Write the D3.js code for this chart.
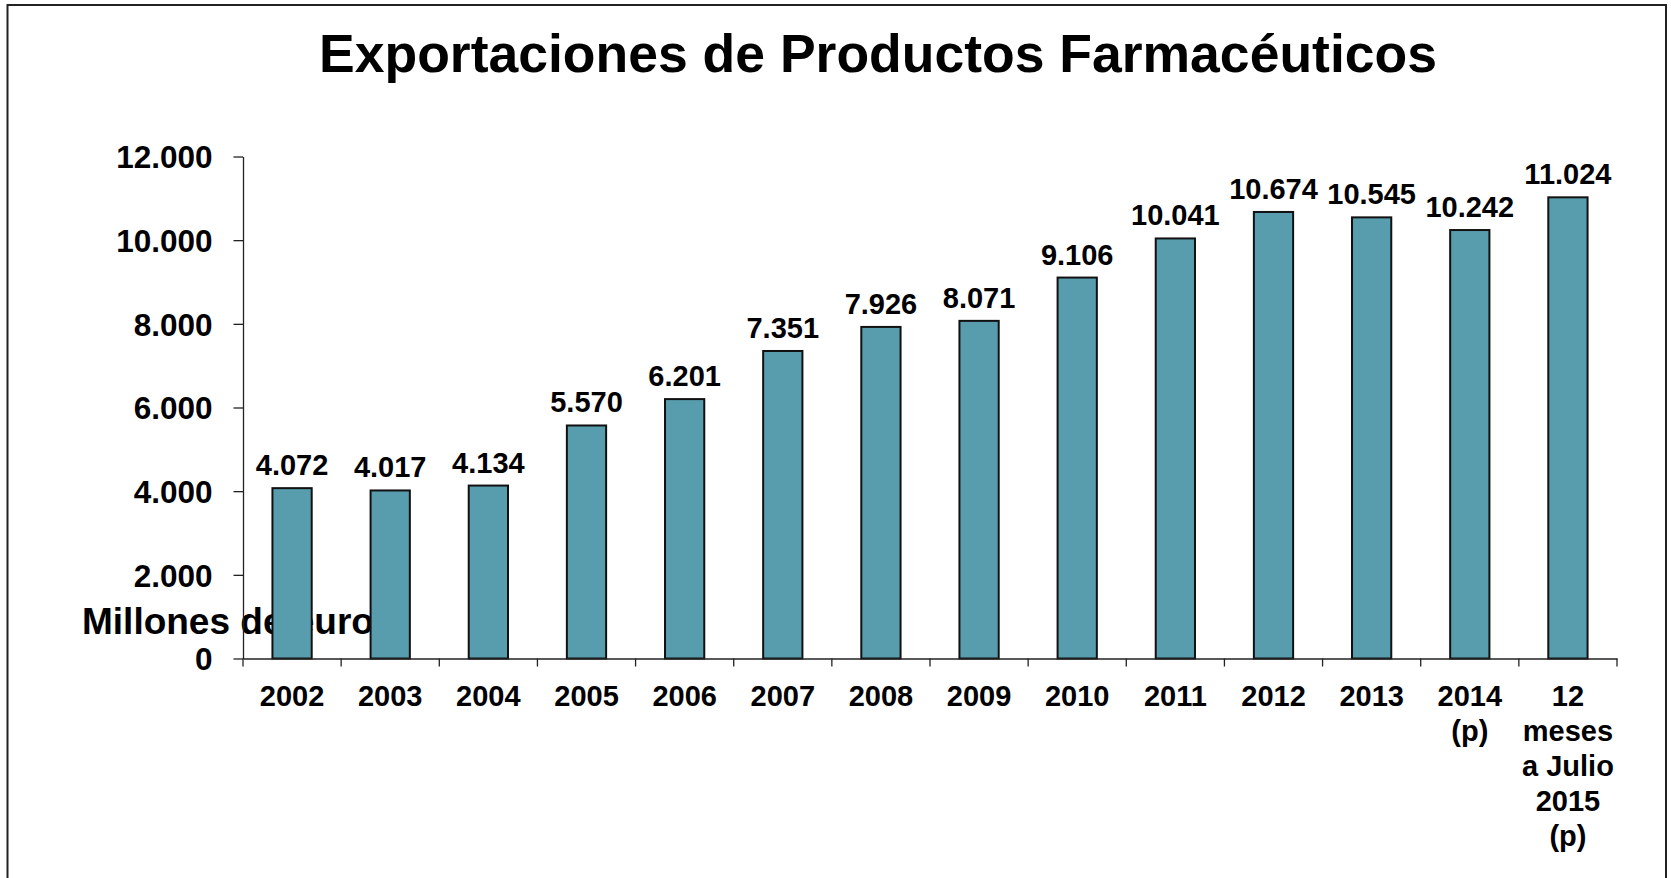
<!DOCTYPE html>
<html>
<head>
<meta charset="utf-8">
<script src="https://cdn.jsdelivr.net/npm/d3@7"></script>
<style>
  html, body { margin: 0; padding: 0; background: #fff; }
  svg { display: block; }
  text { font-family: "Liberation Sans", Arial, Helvetica, sans-serif; font-weight: bold; fill: #000; }
</style>
</head>
<body>
<script>
const title = "Exportaciones de Productos Farmacéuticos";
const yAxisLabel = "Millones de euro";
const categories = ["2002", "2003", "2004", "2005", "2006", "2007", "2008", "2009", "2010", "2011", "2012", "2013", "2014\n(p)", "12\nmeses\na Julio\n2015\n(p)"];
const values = [4072, 4017, 4134, 5570, 6201, 7351, 7926, 8071, 9106, 10041, 10674, 10545, 10242, 11024];
const yTicks = [0, 2000, 4000, 6000, 8000, 10000, 12000];

const W = 1671, H = 878;
const svg = d3.select("body").append("svg").attr("width", W).attr("height", H);

const loc = d3.formatLocale({ decimal: ",", thousands: ".", grouping: [3], currency: ["", " €"] });
const fmt = loc.format(",d");

const x = d3.scaleBand().domain(categories).range([243, 1617]).padding(0);
const y = d3.scaleLinear().domain([0, 12000]).range([658.5, 156.5]);

// frame
svg.append("rect").attr("x", 7.5).attr("y", 5).attr("width", 1658.5).attr("height", H + 20)
  .attr("fill", "none").attr("stroke", "#222").attr("stroke-width", 2);

// title
svg.append("text").attr("x", 878).attr("y", 72).attr("text-anchor", "middle")
  .style("font-size", "53.5px").text(title);

// y axis label (behind bars)
svg.append("text").attr("x", 82).attr("y", 634).style("font-size", "37px").text(yAxisLabel);

// bars
const barW = x.bandwidth() * 0.4;
svg.append("g").selectAll("rect").data(values).join("rect")
  .attr("x", (d, i) => x(categories[i]) + (x.bandwidth() - barW) / 2)
  .attr("y", d => y(d))
  .attr("width", barW)
  .attr("height", d => y(0) - y(d))
  .attr("fill", "#589dae")
  .attr("stroke", "#111")
  .attr("stroke-width", 2);

// value labels
svg.append("g").selectAll("text").data(values).join("text")
  .attr("x", (d, i) => x(categories[i]) + x.bandwidth() / 2)
  .attr("y", d => y(d) - 13)
  .attr("text-anchor", "middle")
  .style("font-size", "29px")
  .text(d => fmt(d));

// y axis
const yAxis = svg.append("g").attr("transform", "translate(243,0)")
  .call(d3.axisLeft(y).tickValues(yTicks).tickSize(9.5).tickPadding(21).tickFormat(fmt).tickSizeOuter(0));
yAxis.select(".domain").attr("stroke", "#222").attr("stroke-width", 1.3);
yAxis.selectAll(".tick line").attr("stroke", "#222").attr("stroke-width", 1.3);
yAxis.selectAll(".tick text").attr("dy", "0.36em").style("font-size", "31.5px")
  .style("font-family", "'Liberation Sans', Arial, sans-serif").style("font-weight", "bold").attr("fill", "#000");

// x axis
const xAxis = svg.append("g").attr("transform", `translate(0,${y(0)})`)
  .call(d3.axisBottom(x).tickSize(0).tickSizeOuter(0).tickFormat(""));
xAxis.select(".domain").attr("stroke", "#222").attr("stroke-width", 1.3);
xAxis.selectAll(".tick").remove();
const edges = categories.map(c => x(c)).concat([x.range()[1]]);
xAxis.append("g").selectAll("line").data(edges).join("line")
  .attr("x1", d => d).attr("x2", d => d).attr("y1", 0).attr("y2", 8)
  .attr("stroke", "#222").attr("stroke-width", 1.3);

// x labels
const xl = svg.append("g").selectAll("text").data(categories).join("text")
  .attr("text-anchor", "middle")
  .attr("transform", c => `translate(${x(c) + x.bandwidth() / 2},705.5)`)
  .style("font-size", "29px");
xl.each(function(c) {
  const lines = c.split("\n");
  d3.select(this).selectAll("tspan").data(lines).join("tspan")
    .attr("x", 0).attr("dy", (d, i) => i === 0 ? 0 : 35).text(d => d);
});
</script>
</body>
</html>
